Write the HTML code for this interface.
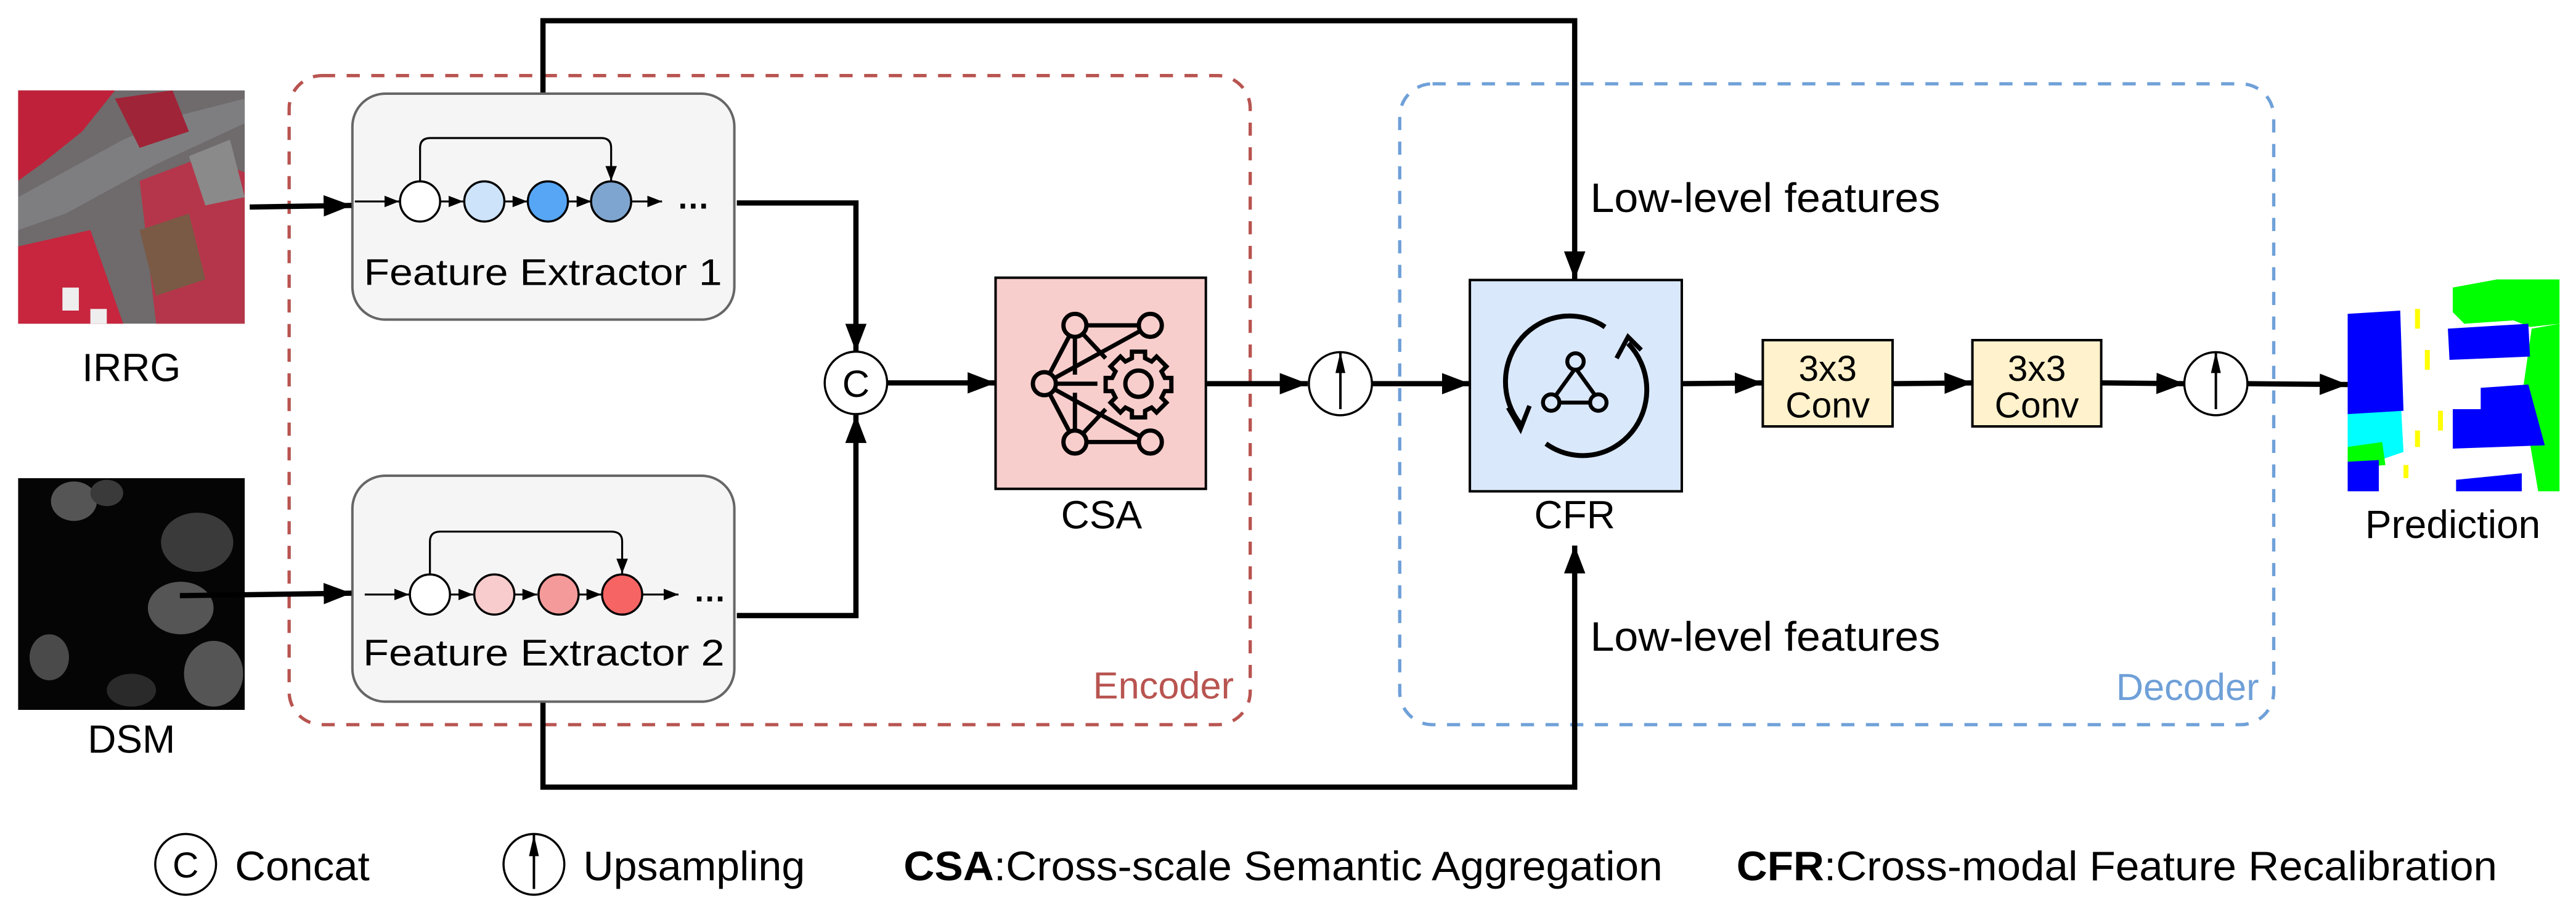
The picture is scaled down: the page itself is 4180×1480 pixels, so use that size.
<!DOCTYPE html>
<html><head><meta charset="utf-8"><style>
html,body{margin:0;padding:0;background:#fff;}
svg{display:block;}
text{font-family:"Liberation Sans",Arial,sans-serif;fill:#000;}
</style></head><body>
<svg width="4180" height="1480" viewBox="0 0 1568 555" preserveAspectRatio="none" xmlns="http://www.w3.org/2000/svg">
<defs>
<marker id="a" markerUnits="userSpaceOnUse" markerWidth="18" markerHeight="14" refX="17" refY="6.5" orient="auto"><path d="M0,0 L17,6.5 L0,13 z" fill="#000"/></marker>
<marker id="s" markerUnits="userSpaceOnUse" markerWidth="10" markerHeight="8" refX="9" refY="3.5" orient="auto"><path d="M0,0 L9,3.5 L0,7 z" fill="#000"/></marker>
<marker id="u" markerUnits="userSpaceOnUse" markerWidth="14" markerHeight="8" refX="13" refY="3" orient="auto"><path d="M0,0 L13,3 L0,6 z" fill="#000"/></marker>
<clipPath id="c1"><rect x="11" y="55" width="138" height="142"/></clipPath>
<clipPath id="c2"><rect x="11" y="291" width="138" height="141"/></clipPath>
<clipPath id="c3"><rect x="1429" y="170" width="129" height="129"/></clipPath>
</defs>

<!-- IRRG image -->
<g clip-path="url(#c1)">
<rect x="11" y="55" width="138" height="142" fill="#6f6a6b"/>
<polygon points="11,55 70,55 50,80 25,100 11,110" fill="#c0213a"/>
<polygon points="11,150 55,140 75,197 11,197" fill="#c8253e"/>
<polygon points="11,120 75,85 110,70 149,60 149,75 95,100 40,130 11,140" fill="#7e7e80"/>
<polygon points="85,110 125,95 149,105 149,197 95,197" fill="#b5364a"/>
<polygon points="85,140 115,130 125,170 95,180" fill="#7a5a45"/>
<polygon points="115,95 140,85 149,120 125,125" fill="#8a8a8a"/>
<polygon points="70,60 105,55 115,80 85,90" fill="#a02438"/>
<rect x="38" y="175" width="10" height="14" fill="#eee"/>
<rect x="55" y="188" width="10" height="9" fill="#eee"/>
</g>
<text x="80" y="232" font-size="24" text-anchor="middle">IRRG</text>

<!-- DSM image -->
<g clip-path="url(#c2)">
<rect x="11" y="291" width="138" height="141" fill="#050505"/>
<ellipse cx="45" cy="305" rx="14" ry="12" fill="#555"/>
<ellipse cx="65" cy="300" rx="10" ry="8" fill="#3a3a3a"/>
<ellipse cx="120" cy="330" rx="22" ry="18" fill="#3a3a3a"/>
<ellipse cx="110" cy="370" rx="20" ry="16" fill="#555"/>
<ellipse cx="30" cy="400" rx="12" ry="14" fill="#4a4a4a"/>
<ellipse cx="130" cy="410" rx="18" ry="20" fill="#555"/>
<ellipse cx="80" cy="420" rx="15" ry="10" fill="#2a2a2a"/>
</g>
<text x="80" y="458" font-size="24" text-anchor="middle">DSM</text>

<!-- Encoder / Decoder dashed boxes -->
<rect x="176" y="46" width="585" height="395" rx="20" fill="none" stroke="#b85450" stroke-width="2" stroke-dasharray="8 7"/>
<text x="751" y="425" font-size="23" text-anchor="end" style="fill:#b85450">Encoder</text>
<rect x="852" y="51" width="532" height="390" rx="20" fill="none" stroke="#6fa0d8" stroke-width="2" stroke-dasharray="8 7"/>
<text x="1375" y="426" font-size="23" text-anchor="end" style="fill:#6fa0d8">Decoder</text>

<!-- skip lines -->
<polyline points="330.5,57 330.5,12.6 958.5,12.6 958.5,170" fill="none" stroke="#000" stroke-width="3.2" marker-end="url(#a)"/>
<polyline points="330.5,427 330.5,479 958.5,479 958.5,332" fill="none" stroke="#000" stroke-width="3.2" marker-end="url(#a)"/>
<text x="968" y="129" font-size="25" textLength="213" lengthAdjust="spacingAndGlyphs">Low-level features</text>
<text x="968" y="396" font-size="25" textLength="213" lengthAdjust="spacingAndGlyphs">Low-level features</text>

<!-- FE1 -->
<rect x="214.5" y="57" width="232.5" height="137.5" rx="20" fill="#f5f5f5" stroke="#666" stroke-width="1.5"/>
<line x1="152" y1="126" x2="214" y2="125" stroke="#000" stroke-width="3.2" marker-end="url(#a)"/>
<line x1="216" y1="122.6" x2="243" y2="122.6" stroke="#000" stroke-width="1.2" marker-end="url(#s)"/>
<line x1="268" y1="122.6" x2="282" y2="122.6" stroke="#000" stroke-width="1.2" marker-end="url(#s)"/>
<line x1="307" y1="122.6" x2="321" y2="122.6" stroke="#000" stroke-width="1.2" marker-end="url(#s)"/>
<line x1="346" y1="122.6" x2="360" y2="122.6" stroke="#000" stroke-width="1.2" marker-end="url(#s)"/>
<line x1="384" y1="122.6" x2="403" y2="122.6" stroke="#000" stroke-width="1.2" marker-end="url(#s)"/>
<path d="M255.7,110 V90 Q255.7,84 262,84 H366 Q372,84 372,90 V110" fill="none" stroke="#000" stroke-width="1.2" marker-end="url(#s)"/>
<circle cx="255.7" cy="122.6" r="12.2" fill="#fff" stroke="#000" stroke-width="1.3"/>
<circle cx="294.8" cy="122.6" r="12.2" fill="#cce3fa" stroke="#000" stroke-width="1.3"/>
<circle cx="333.5" cy="122.6" r="12.2" fill="#57a6f5" stroke="#000" stroke-width="1.3"/>
<circle cx="372" cy="122.6" r="12.2" fill="#7ea5cf" stroke="#000" stroke-width="1.3"/>
<text x="422" y="127" font-size="20" text-anchor="middle" font-weight="bold">…</text>
<text x="330.5" y="173.4" font-size="22.5" text-anchor="middle" textLength="218" lengthAdjust="spacingAndGlyphs">Feature Extractor 1</text>

<!-- FE2 -->
<rect x="214.5" y="289.5" width="232.5" height="137.5" rx="20" fill="#f5f5f5" stroke="#666" stroke-width="1.5"/>
<line x1="109.5" y1="362.5" x2="214" y2="361" stroke="#000" stroke-width="3.2" marker-end="url(#a)"/>
<line x1="222" y1="361.8" x2="249" y2="361.8" stroke="#000" stroke-width="1.2" marker-end="url(#s)"/>
<line x1="274" y1="361.8" x2="288" y2="361.8" stroke="#000" stroke-width="1.2" marker-end="url(#s)"/>
<line x1="313" y1="361.8" x2="327" y2="361.8" stroke="#000" stroke-width="1.2" marker-end="url(#s)"/>
<line x1="352" y1="361.8" x2="366" y2="361.8" stroke="#000" stroke-width="1.2" marker-end="url(#s)"/>
<line x1="391" y1="361.8" x2="413" y2="361.8" stroke="#000" stroke-width="1.2" marker-end="url(#s)"/>
<path d="M261.7,349 V329.5 Q261.7,323.5 268,323.5 H372 Q378.7,323.5 378.7,329.5 V349" fill="none" stroke="#000" stroke-width="1.2" marker-end="url(#s)"/>
<circle cx="261.7" cy="361.8" r="12.2" fill="#fff" stroke="#000" stroke-width="1.3"/>
<circle cx="300.9" cy="361.8" r="12.2" fill="#f8cccc" stroke="#000" stroke-width="1.3"/>
<circle cx="340" cy="361.8" r="12.2" fill="#f59a9a" stroke="#000" stroke-width="1.3"/>
<circle cx="378.7" cy="361.8" r="12.2" fill="#f76464" stroke="#000" stroke-width="1.3"/>
<text x="432" y="366" font-size="20" text-anchor="middle" font-weight="bold">…</text>
<text x="331" y="405" font-size="22.5" text-anchor="middle" textLength="220" lengthAdjust="spacingAndGlyphs">Feature Extractor 2</text>

<!-- to concat -->
<polyline points="448.5,123.5 521,123.5 521,214" fill="none" stroke="#000" stroke-width="3.2" marker-end="url(#a)"/>
<polyline points="448.5,374.6 521,374.6 521,252.6" fill="none" stroke="#000" stroke-width="3.2" marker-end="url(#a)"/>
<circle cx="521" cy="233" r="19" fill="#fff" stroke="#000" stroke-width="1.3"/>
<text x="521" y="241.5" font-size="23" text-anchor="middle">C</text>
<line x1="540" y1="233" x2="606" y2="233" stroke="#000" stroke-width="3.2" marker-end="url(#a)"/>

<!-- CSA -->
<rect x="606" y="169" width="128" height="128.5" fill="#f8cecc" stroke="#000" stroke-width="1.5"/>
<g stroke="#000" stroke-width="2.6" fill="none">
<line x1="654.3" y1="198" x2="700.2" y2="198"/>
<line x1="654.3" y1="269" x2="700.2" y2="269"/>
<line x1="635.7" y1="233.5" x2="654.3" y2="198"/>
<line x1="635.7" y1="233.5" x2="654.3" y2="269"/>
<line x1="635.7" y1="233.5" x2="700.2" y2="198"/>
<line x1="635.7" y1="233.5" x2="700.2" y2="269"/>
<line x1="654.3" y1="205" x2="654.3" y2="228"/>
<line x1="654.3" y1="239" x2="654.3" y2="262"/>
<line x1="654.3" y1="198" x2="673" y2="218"/>
<line x1="654.3" y1="269" x2="673" y2="249"/>
<line x1="640" y1="233.5" x2="668" y2="233.5"/>
<circle cx="693" cy="233.5" r="8"/>
<path d="M689,214 h8 v4 l4,2 3,-3 6,6 -3,3 2,4 h4 v8 h-4 l-2,4 3,3 -6,6 -3,-3 -4,2 v4 h-8 v-4 l-4,-2 -3,3 -6,-6 3,-3 -2,-4 h-4 v-8 h4 l2,-4 -3,-3 6,-6 3,3 4,-2 z"/>
</g>
<g stroke="#000" stroke-width="2.6" fill="#f8cecc">
<circle cx="654.3" cy="198" r="7"/><circle cx="700.2" cy="198" r="7"/>
<circle cx="635.7" cy="233.5" r="7"/>
<circle cx="654.3" cy="269" r="7"/><circle cx="700.2" cy="269" r="7"/>
</g>
<text x="670.5" y="321.5" font-size="24" text-anchor="middle">CSA</text>

<!-- upsample 1 -->
<line x1="734" y1="233.5" x2="796" y2="233.5" stroke="#000" stroke-width="3.2" marker-end="url(#a)"/>
<circle cx="815.9" cy="233.5" r="19.2" fill="#fff" stroke="#000" stroke-width="1.3"/>
<line x1="815.9" y1="249" x2="815.9" y2="214" stroke="#000" stroke-width="1.5" marker-end="url(#u)"/>
<line x1="835" y1="233.5" x2="894.7" y2="233.5" stroke="#000" stroke-width="3.2" marker-end="url(#a)"/>

<!-- CFR -->
<rect x="894.7" y="170.4" width="129" height="128.6" fill="#dae8fc" stroke="#000" stroke-width="1.5"/>
<g stroke="#000" stroke-width="3" fill="none">
<path d="M977,199 A39,40 0 0 0 925.5,258"/>
<path d="M941,270 A39,40 0 0 0 991,209"/>
<path d="M918,248 L925.5,261 L931,247" stroke-width="2.8"/>
<path d="M984,218 L991,205 L999,213" stroke-width="2.8"/>
<line x1="959" y1="224" x2="946" y2="242" stroke-width="2.4"/>
<line x1="959" y1="224" x2="972" y2="242" stroke-width="2.4"/>
<line x1="944" y1="245" x2="973" y2="245" stroke-width="2.4"/>
<circle cx="959" cy="220" r="5" fill="#dae8fc" stroke-width="2.4"/>
<circle cx="944.2" cy="245" r="5" fill="#dae8fc" stroke-width="2.4"/>
<circle cx="972.9" cy="245" r="5" fill="#dae8fc" stroke-width="2.4"/>
</g>
<text x="958.5" y="321.5" font-size="24" text-anchor="middle">CFR</text>

<!-- convs -->
<line x1="1024" y1="233.5" x2="1073" y2="233" stroke="#000" stroke-width="3.2" marker-end="url(#a)"/>
<rect x="1073" y="207" width="79" height="52.5" fill="#fff2cc" stroke="#000" stroke-width="1.5"/>
<text x="1112.5" y="231.7" font-size="22" text-anchor="middle">3x3</text>
<text x="1112.5" y="254" font-size="22" text-anchor="middle">Conv</text>
<line x1="1152" y1="233.5" x2="1200.6" y2="233" stroke="#000" stroke-width="3.2" marker-end="url(#a)"/>
<rect x="1200.6" y="207" width="78.4" height="52.5" fill="#fff2cc" stroke="#000" stroke-width="1.5"/>
<text x="1239.8" y="231.7" font-size="22" text-anchor="middle">3x3</text>
<text x="1239.8" y="254" font-size="22" text-anchor="middle">Conv</text>
<line x1="1279" y1="233" x2="1329.6" y2="233.5" stroke="#000" stroke-width="3.2" marker-end="url(#a)"/>
<circle cx="1348.8" cy="233.5" r="19.2" fill="#fff" stroke="#000" stroke-width="1.3"/>
<line x1="1348.8" y1="249" x2="1348.8" y2="214" stroke="#000" stroke-width="1.5" marker-end="url(#u)"/>
<line x1="1368" y1="233.5" x2="1429" y2="234" stroke="#000" stroke-width="3.2" marker-end="url(#a)"/>

<!-- Prediction image -->
<g clip-path="url(#c3)">
<rect x="1429" y="170" width="129" height="129" fill="#fff"/>
<polygon points="1493,175 1520,170 1558,170 1558,197 1540,199 1530,195 1500,197 1493,190" fill="#00ff00"/>
<polygon points="1541,200 1558,197 1558,299 1545,299 1540,270 1536,235" fill="#00ff00"/>
<polygon points="1429,240 1461,238 1463,275 1440,283 1429,280" fill="#00ffff"/>
<polygon points="1429,272 1450,269 1452,283 1429,285" fill="#00ff00"/>
<polygon points="1429,191 1461,189 1463,250 1429,252" fill="#0000ff"/>
<polygon points="1490,200 1539,197 1540,217 1491,219" fill="#0000ff"/>
<polygon points="1510,236 1539,234 1549,271 1493,273 1493,249 1510,249" fill="#0000ff"/>
<polygon points="1429,281 1448,280 1448,299 1429,299" fill="#0000ff"/>
<polygon points="1495,292 1535,288 1535,299 1495,299" fill="#0000ff"/>
<rect x="1470" y="188" width="3" height="12" fill="#ffff00"/>
<rect x="1476" y="213" width="3" height="12" fill="#ffff00"/>
<rect x="1484" y="250" width="3" height="12" fill="#ffff00"/>
<rect x="1470" y="262" width="3" height="10" fill="#ffff00"/>
<rect x="1463" y="283" width="3" height="8" fill="#ffff00"/>
</g>
<text x="1493" y="327.4" font-size="24" text-anchor="middle">Prediction</text>

<!-- Legend -->
<circle cx="113" cy="526" r="18.5" fill="#fff" stroke="#000" stroke-width="1.3"/>
<text x="113" y="534" font-size="22" text-anchor="middle">C</text>
<text x="143" y="535.6" font-size="25" textLength="82" lengthAdjust="spacingAndGlyphs">Concat</text>
<circle cx="325" cy="526" r="18.5" fill="#fff" stroke="#000" stroke-width="1.3"/>
<line x1="325" y1="541" x2="325" y2="508" stroke="#000" stroke-width="1.5" marker-end="url(#u)"/>
<text x="355" y="535.6" font-size="25" textLength="135" lengthAdjust="spacingAndGlyphs">Upsampling</text>
<text x="550" y="535.6" font-size="25" textLength="462" lengthAdjust="spacingAndGlyphs"><tspan font-weight="bold">CSA</tspan>:Cross-scale Semantic Aggregation</text>
<text x="1057" y="535.6" font-size="25" textLength="463" lengthAdjust="spacingAndGlyphs"><tspan font-weight="bold">CFR</tspan>:Cross-modal Feature Recalibration</text>
</svg>
</body></html>
